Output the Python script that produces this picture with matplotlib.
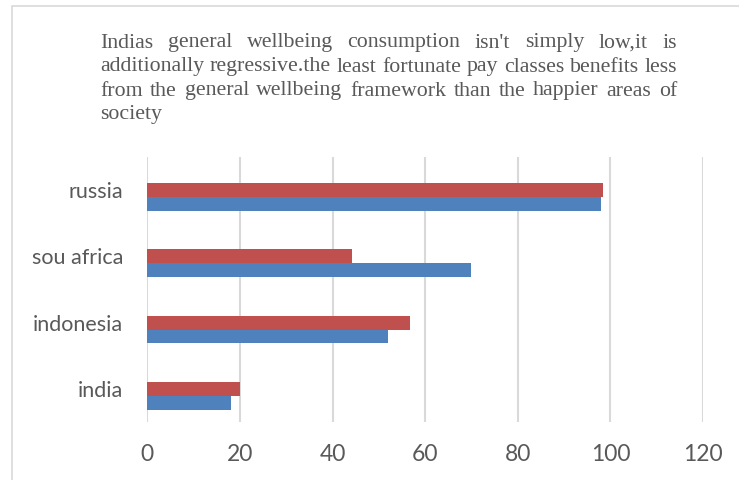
import matplotlib
matplotlib.use('Agg')
from matplotlib import pyplot as plt
from matplotlib.patches import Rectangle
import numpy as np

paises = ['india', 'indonesia', 'sou africa', 'russia']
serie_azul = [18, 52, 70, 98]
serie_vermelha = [20, 56.7, 44.2, 98.5]
ticks_x = [0, 20, 40, 60, 80, 100, 120]

titulo = ["Indias general wellbeing consumption isn't simply low,it is",
          "additionally regressive.the least fortunate pay classes benefits less",
          "from the general wellbeing framework than the happier areas of",
          "society"]

W, H = 739, 480
fig = plt.figure(figsize=(W / 100, H / 100), dpi=100)

# borda cinza clara do grafico (cortada na direita e embaixo)
fig.patches.append(Rectangle((12 / W, -0.1), 1.2, 1 - 6 / H + 0.1, transform=fig.transFigure,
                             fill=False, edgecolor='#d9d9d9', linewidth=1.2))

ax = fig.add_axes([147.3 / W, 1 - 422 / H, (703 - 147.3) / W, (422 - 157) / H])

y = np.arange(len(paises))
altura = 0.21
# barras um pouco abaixo do centro da categoria, como no original
ax.barh(y - 0.105 - altura, serie_azul, height=altura, align='edge', color='#4f81bd')
ax.barh(y - 0.105, serie_vermelha, height=altura, align='edge', color='#c0504d')

ax.set_xlim(0, 120)
ax.set_ylim(-0.5, 3.5)
ax.set_xticks(ticks_x)
ax.set_yticks(y)
ax.set_yticklabels(paises)
ax.grid(axis='x', color='#d9d9d9', linewidth=1.5)
ax.set_axisbelow(True)
for s in ax.spines.values():
    s.set_visible(False)
ax.tick_params(axis='both', length=0, labelcolor='#595959')
ax.tick_params(axis='y', pad=17.5, labelsize=15.5)
ax.tick_params(axis='x', pad=15.5, labelsize=16.5)
for lbl in ax.get_xticklabels() + ax.get_yticklabels():
    lbl.set_family('Lato')

# titulo justificado, palavra por palavra
renderer = fig.canvas.get_renderer()
x0, x1 = 100, 677

# tamanho da fonte ajustado para a 2a linha caber sem esticar
t = fig.text(0, 0, titulo[1], family='Liberation Serif', size=13.5)
tam = 13.5 * (x1 - x0) / t.get_window_extent(renderer).width
t.remove()

fonte = dict(family='Liberation Serif', size=tam, color='#595959')
for i, linha in enumerate(titulo):
    ytxt = 1 - (43 + i * 24) / H
    palavras = linha.split(' ')
    larguras = []
    for p in palavras:
        t = fig.text(0, 0, p, **fonte)
        larguras.append(t.get_window_extent(renderer).width)
        t.remove()
    if i < len(titulo) - 1 and len(palavras) > 1:
        espaco = (x1 - x0 - sum(larguras)) / (len(palavras) - 1)
    else:
        espaco = 4
    xpos = x0
    for p, w in zip(palavras, larguras):
        fig.text(xpos / W, ytxt, p, va='center', ha='left', **fonte)
        xpos += w + espaco

plt.savefig('out.png', dpi=100)
